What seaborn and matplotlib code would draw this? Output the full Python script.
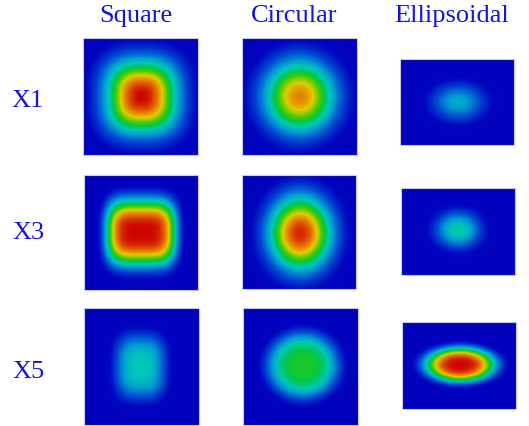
import numpy as np
import pandas as pd
import matplotlib
matplotlib.use("Agg")
import matplotlib.pyplot as plt
from matplotlib.colors import LinearSegmentedColormap
import seaborn as sns

# ---- data ----
columns = ["Square", "Circular", "Ellipsoidal"]
rows = ["X1", "X3", "X5"]
# per panel (row-major: X1 Sq, X1 Circ, X1 Ell, X3 ..., X5 ...)
peaks   = [1.00, 0.82, 0.36, 1.00, 0.95, 0.45, 0.42, 0.55, 1.00]
cx      = [0.51, 0.50, 0.51, 0.50, 0.51, 0.50, 0.49, 0.52, 0.51]
cy      = [0.50, 0.50, 0.50, 0.50, 0.51, 0.48, 0.50, 0.49, 0.49]
ax_w    = [0.31, 0.32, 0.25, 0.31, 0.28, 0.21, 0.23, 0.32, 0.31]
ay_w    = [0.31, 0.32, 0.23, 0.29, 0.33, 0.22, 0.29, 0.29, 0.20]
px_exp  = [2.7, 2.0, 2.0, 4.5, 2.0, 2.0, 3.0, 2.0, 2.0]   # x exponent
py_exp  = [2.7, 2.0, 2.0, 2.8, 2.0, 2.0, 3.0, 2.0, 2.0]   # y exponent
fall_k  = [0.75, 1.0, 1.0, 1.0, 1.0, 1.0, 1.0, 1.75, 1.5] # radial fall-off
# panel boxes in pixels (x0, y0, x1, y1) on a 529x427 canvas
boxes = [
    (83, 39, 198, 156), (242, 39, 357, 156), (400, 60, 514, 146),
    (84, 176, 198, 291), (242, 176, 356, 290), (401, 189, 515, 276),
    (84, 309, 199, 426), (243, 309, 358, 426), (402, 323, 516, 410),
]
col_title_x = [136, 294, 452]
row_label_y = [101, 233, 372]

W, H = 529, 427
cmap = LinearSegmentedColormap.from_list("fld", [
    (0.00, (0.00, 0.00, 0.74)),
    (0.08, (0.00, 0.02, 0.75)),
    (0.20, (0.00, 0.28, 0.82)),
    (0.33, (0.00, 0.62, 0.82)),
    (0.42, (0.00, 0.78, 0.72)),
    (0.52, (0.00, 0.78, 0.28)),
    (0.60, (0.25, 0.80, 0.00)),
    (0.72, (0.88, 0.80, 0.00)),
    (0.85, (0.90, 0.42, 0.00)),
    (1.00, (0.80, 0.02, 0.00)),
])

sns.set_theme(style="white")
plt.rcParams['font.family'] = ['Liberation Serif', 'DejaVu Serif']
fig = plt.figure(figsize=(W / 100, H / 100), dpi=100)
fig.patch.set_facecolor("white")

for i, (x0, y0, x1, y1) in enumerate(boxes):
    w, h = x1 - x0, y1 - y0
    nx, ny = int(w), int(h)
    xs = (np.arange(nx) + 0.5) / nx
    ys = (np.arange(ny) + 0.5) / ny
    X, Y = np.meshgrid(xs, ys)
    q = (np.abs((X - cx[i]) / ax_w[i]) ** px_exp[i]
         + np.abs((Y - cy[i]) / ay_w[i]) ** py_exp[i])
    Z = peaks[i] * np.exp(-q ** fall_k[i])
    df = pd.DataFrame(Z)
    ax = fig.add_axes([x0 / W, 1 - y1 / H, w / W, h / H])
    sns.heatmap(df, ax=ax, cmap=cmap, vmin=0, vmax=1, cbar=False,
                xticklabels=False, yticklabels=False)
    for s in ax.spines.values():
        s.set_visible(True)
        s.set_color("#c8c8f0")
        s.set_linewidth(0.8)

for name, x in zip(columns, col_title_x):
    fig.text(x / W, 1 - 16 / H, name, ha="center", va="center",
             fontsize=19, color="#1414dc")
for name, y in zip(rows, row_label_y):
    fig.text(28 / W, 1 - y / H, name, ha="center", va="center",
             fontsize=19, color="#1414dc")

fig.savefig("out.png", dpi=100, facecolor="white")
